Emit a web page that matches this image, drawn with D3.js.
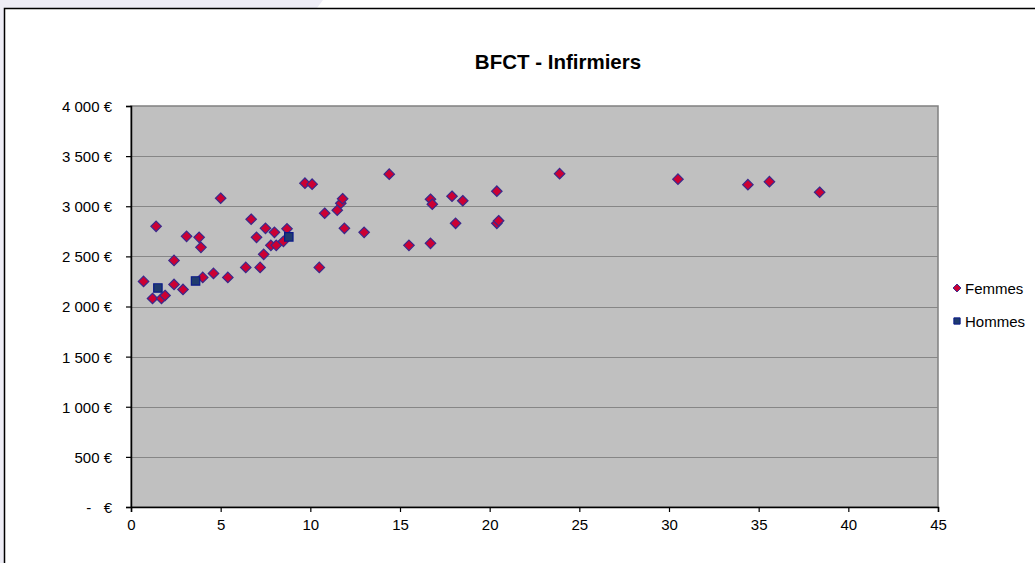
<!DOCTYPE html>
<html>
<head>
<meta charset="utf-8">
<script src="https://cdn.jsdelivr.net/npm/d3@7"></script>
<style>
  html, body { margin: 0; padding: 0; background: #ffffff; }
  svg { display: block; }
</style>
</head>
<body>
<div id="chart"></div>
<script>
// Ancienneté (années) / salaire (€)
const femmesX = [0.7, 1.4, 1.2, 1.7, 1.9, 2.4, 2.4, 2.9, 3.1, 3.8, 3.9, 4.0, 4.6, 5.0, 5.4,
  6.4, 6.7, 7.0, 7.2, 7.4, 7.5, 7.8, 8.1, 8.0, 8.5, 8.7, 9.7, 10.1, 10.5, 10.8,
  11.5, 11.7, 11.8, 11.9, 13.0, 14.4, 15.5, 16.7, 16.7, 16.8, 17.9, 18.1, 18.5,
  20.4, 20.4, 20.5, 23.9, 30.5, 34.4, 35.6, 38.4];
const femmesY = [2250, 2800, 2080, 2080, 2110, 2460, 2220, 2170, 2700, 2690, 2590, 2290, 2330, 3080, 2290,
  2390, 2870, 2690, 2390, 2520, 2780, 2610, 2610, 2740, 2650, 2775, 3230, 3220, 2390, 2930,
  2960, 3030, 3075, 2780, 2740, 3320, 2610, 2630, 3070, 3020, 3100, 2830, 3055,
  3150, 2830, 2855, 3325, 3270, 3215, 3245, 3140];
const hommesX = [1.5, 3.6, 8.8];
const hommesY = [2185, 2255, 2695];

const xTicks = [0, 5, 10, 15, 20, 25, 30, 35, 40, 45];
const yTicks = [0, 500, 1000, 1500, 2000, 2500, 3000, 3500, 4000];
const seriesNames = ['Femmes', 'Hommes'];

const W = 1035, H = 563;
const plot = { left: 131, top: 106, right: 938, bottom: 507 };
const font = '"Liberation Sans", Arial, sans-serif';

const svg = d3.select('#chart').append('svg')
    .attr('width', W)
    .attr('height', H);

// page background bits (lavender strip)
svg.append('path')
    .attr('d', 'M0,0 L323,0 L317,8 L4,8 L4,563 L0,563 Z')
    .attr('fill', '#eeedf6');

// chart frame
svg.append('path')
    .attr('d', `M4.5,${H + 2} L4.5,8.5 L${W + 2},8.5`)
    .attr('fill', 'none')
    .attr('stroke', '#000')
    .attr('stroke-width', 1.5);

const x = d3.scaleLinear().domain([0, 45]).range([plot.left, plot.right]);
const y = d3.scaleLinear().domain([0, 4000]).range([plot.bottom, plot.top]);

// plot area
svg.append('rect')
    .attr('x', plot.left)
    .attr('y', plot.top)
    .attr('width', plot.right - plot.left)
    .attr('height', plot.bottom - plot.top)
    .attr('fill', '#c0c0c0')
    .attr('stroke', '#808080')
    .attr('stroke-width', 1.5);

// gridlines
svg.append('g')
    .selectAll('line')
    .data(yTicks.filter(d => d > 0 && d < 4000))
    .enter()
    .append('line')
    .attr('x1', plot.left)
    .attr('x2', plot.right)
    .attr('y1', d => Math.round(y(d)) + 0.5)
    .attr('y2', d => Math.round(y(d)) + 0.5)
    .attr('stroke', '#868686')
    .attr('stroke-width', 1.2);

// Y axis
const yAxis = svg.append('g')
    .attr('transform', `translate(${plot.left},0)`)
    .call(d3.axisLeft(y).tickValues(yTicks).tickSize(5).tickPadding(14)
        .tickFormat(d => d === 0 ? '-   €' : d3.format(',')(d).replace(',', ' ') + ' €'))
    .attr('font-size', 15)
    .attr('font-family', font);
yAxis.select('.domain').attr('stroke', '#000').attr('stroke-width', 1.5);
yAxis.selectAll('.tick line').attr('stroke', '#000').attr('stroke-width', 1.2);
yAxis.selectAll('text')
    .style('font-size', '15px')
    .style('white-space', 'pre')
    .attr('dy', '0.36em')
    .attr('fill', '#000');

// X axis
const xAxis = svg.append('g')
    .attr('transform', `translate(0,${plot.bottom})`)
    .call(d3.axisBottom(x).tickValues(xTicks).tickSize(5).tickPadding(7))
    .attr('font-size', 15)
    .attr('font-family', font);
xAxis.select('.domain').attr('stroke', '#000').attr('stroke-width', 1.5);
xAxis.selectAll('.tick line').attr('stroke', '#000').attr('stroke-width', 1.2);
xAxis.selectAll('text')
    .style('font-size', '15px')
    .attr('fill', '#000');

// Title
svg.append('text')
    .attr('x', 558)
    .attr('y', 69)
    .attr('text-anchor', 'middle')
    .style('font-family', font)
    .style('font-size', '20.5px')
    .style('font-weight', 'bold')
    .text('BFCT - Infirmiers');

const diamond = d3.symbol().type(d3.symbolDiamond2).size(70);
const square = d3.symbol().type(d3.symbolSquare2).size(90);

// Femmes
svg.append('g')
    .selectAll('path')
    .data(femmesX.map((v, i) => [v, femmesY[i]]))
    .enter()
    .append('path')
    .attr('transform', d => `translate(${x(d[0])},${y(d[1])})`)
    .attr('d', diamond)
    .attr('fill', '#cc0033')
    .attr('stroke', '#3a2a8c')
    .attr('stroke-width', 1.2);

// Hommes
svg.append('g')
    .selectAll('path')
    .data(hommesX.map((v, i) => [v, hommesY[i]]))
    .enter()
    .append('path')
    .attr('transform', d => `translate(${x(d[0])},${y(d[1])})`)
    .attr('d', square)
    .attr('fill', '#1f3b6e')
    .attr('stroke', '#0a1a8a')
    .attr('stroke-width', 1.2);

// Legend
const legend = svg.append('g');
const legendY = [288, 321];
seriesNames.forEach((name, i) => {
    legend.append('path')
        .attr('transform', `translate(957,${legendY[i]})`)
        .attr('d', i === 0 ? d3.symbol().type(d3.symbolDiamond2).size(40)() : d3.symbol().type(d3.symbolSquare2).size(50)())
        .attr('fill', i === 0 ? '#cc0033' : '#1f3b6e')
        .attr('stroke', i === 0 ? '#3a2a8c' : '#0a1a8a')
        .attr('stroke-width', 1);
    legend.append('text')
        .attr('x', 965)
        .attr('y', legendY[i] + 5.5)
        .style('font-family', font)
        .style('font-size', '15px')
        .text(name);
});
</script>
</body>
</html>
